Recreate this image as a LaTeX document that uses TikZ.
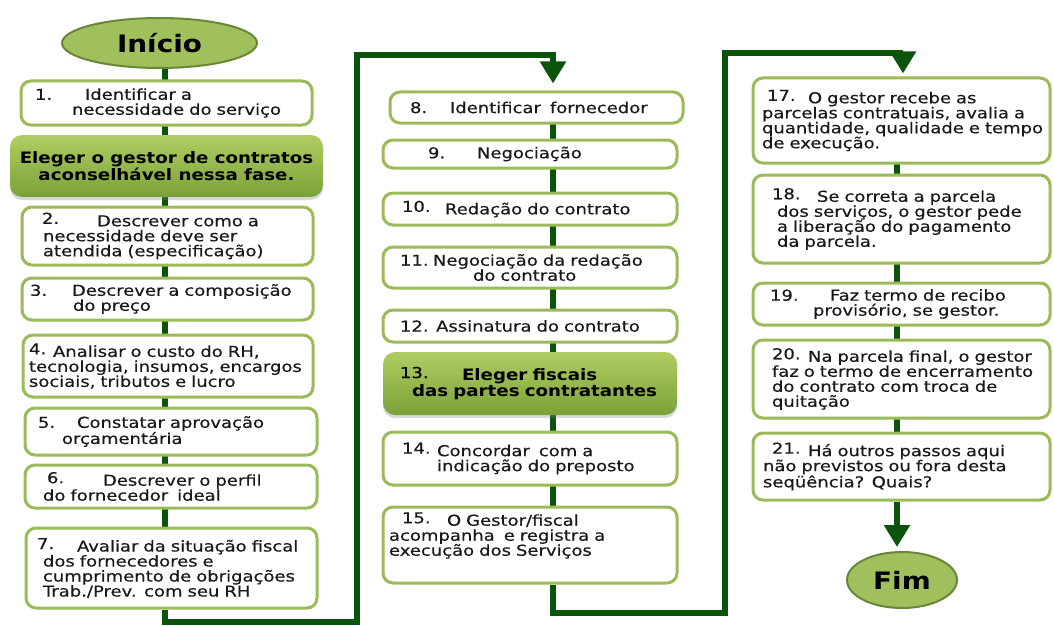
\documentclass[tikz,border=0pt]{standalone}
\usepackage{fontspec}
\newfontfamily\regf{DejaVu Sans}[FakeStretch=1.2, FakeBold=0.4]
\newfontfamily\boldf{DejaVu Sans}[FakeStretch=1.16]
\usetikzlibrary{arrows.meta,shapes.geometric,backgrounds,shadows}
\definecolor{connc}{RGB}{12,84,12}
\definecolor{bord}{RGB}{155,187,89}
\definecolor{gtop}{RGB}{176,205,98}
\definecolor{gbot}{RGB}{122,162,56}
\definecolor{ellf}{RGB}{160,192,94}
\definecolor{elld}{RGB}{105,135,55}
\definecolor{txt}{RGB}{25,25,25}
\newcommand{\NL}[4]{\hspace*{#1pt}\makebox[#2pt][l]{#3}\mbox{#4}}
\newcommand{\LL}[2]{\hspace*{#1pt}\mbox{#2}}
\newcommand{\rn}[1]{\raisebox{2.5pt}{#1}}
\tikzset{
  stepbox/.style={draw=bord, line width=3pt, rounded corners=10pt, fill=white,
    align=left, inner xsep=6pt, inner ysep=2pt, text=txt,
    font=\regf\fontsize{15}{15}\selectfont},
  greenbox/.style={draw=none, rounded corners=12pt, top color=gtop, bottom color=gbot,
    drop shadow={opacity=0.3, shadow xshift=0pt, shadow yshift=-3pt},
    inner xsep=6pt, font=\boldf\bfseries\fontsize{15.7}{15}\selectfont},
  term/.style={ellipse, draw=elld, line width=2pt, fill=ellf, inner sep=0pt,
    font=\boldf\bfseries\fontsize{24}{26}\selectfont},
  conn/.style={draw=connc, line width=6pt},
  tip/.style={-{Triangle[width=25pt,length=22pt]}}
}
\begin{document}
\begin{tikzpicture}[x=1pt,y=-1pt]
\useasboundingbox (0,0) rectangle (1053,626);
\coordinate (cl) at (165,0);
\coordinate (cm) at (553,0);
\coordinate (cr) at (897,0);
\coordinate (lb1) at (357,622);
\coordinate (lt1) at (553,55);
\coordinate (lb2) at (725,613);
\coordinate (lt2) at (903,53);

% left column
\node[term, minimum width=195pt, minimum height=50pt] (st) at (159.5,43) {Início};
\node[stepbox, minimum width=291pt, text width=279pt, minimum height=44pt] (b1) at (166.5,103)
  {\NL{8}{50}{1.}{Identificar a}\\\LL{45}{necessidade do serviço}};
\node[greenbox, minimum width=313pt, minimum height=62pt, align=center] (g1) at (166.5,166)
  {Eleger o gestor de contratos\\aconselhável nessa fase.};
\node[stepbox, minimum width=291pt, text width=279pt, minimum height=58pt] (b2) at (167.5,236)
  {\NL{14}{55}{\rn{2.}}{Descrever como a}\\\LL{15}{necessidade deve ser}\\\LL{15}{atendida (especificação)}};
\node[stepbox, minimum width=291pt, text width=279pt, minimum height=42pt] (b3) at (167.5,299)
  {\NL{2}{42}{3.}{Descrever a composição}\\\LL{45}{do preço}};
\node[stepbox, minimum width=290pt, text width=278pt, minimum height=62pt] (b4) at (168,366)
  {\NL{0}{24}{\rn{4.}}{Analisar o custo do RH,}\\\LL{0}{tecnologia, insumos, encargos}\\\LL{0}{sociais, tributos e lucro}};
\node[stepbox, minimum width=292pt, text width=280pt, minimum height=47pt] (b5) at (171,431.5)
  {\NL{7}{39}{5.}{Constatar aprovação}\\\LL{31}{orçamentária}};
\node[stepbox, minimum width=292pt, text width=280pt, minimum height=43pt] (b6) at (171,486.5)
  {\NL{16}{56}{\rn{6.}}{Descrever o perfil}\\\LL{12}{do fornecedor\hspace{4pt} ideal}};
\node[stepbox, minimum width=291pt, text width=279pt, minimum height=80pt] (b7) at (171.5,568)
  {\NL{5}{40}{\rn{7.}}{Avaliar da situação fiscal}\\\LL{11}{dos fornecedores e}\\\LL{11}{cumprimento de obrigações}\\\LL{11}{Trab./Prev. com seu RH}};

% middle column
\node[stepbox, minimum width=293pt, text width=281pt, minimum height=31pt] (b8) at (536.5,107.5)
  {\NL{14}{40}{8.}{Identificar\hspace{4pt} fornecedor}};
\node[stepbox, minimum width=294pt, text width=282pt, minimum height=28pt] (b9) at (530,154)
  {\NL{39}{49}{9.}{Negociação}};
\node[stepbox, minimum width=294pt, text width=282pt, minimum height=32pt] (b10) at (530,209)
  {\NL{13}{43}{\rn{10.}}{Redação do contrato}};
\node[stepbox, minimum width=294pt, text width=282pt, minimum height=41pt] (b11) at (530,267.5)
  {\NL{11}{33}{11.}{Negociação da redação}\\\LL{84}{do contrato}};
\node[stepbox, minimum width=294pt, text width=282pt, minimum height=32pt] (b12) at (530,326)
  {\LL{11}{12. Assinatura do contrato}};
\node[greenbox, minimum width=294pt, text width=282pt, minimum height=63pt, align=left] (g13) at (530,383.5)
  {\NL{11}{62}{\rn{\regf\mdseries\fontsize{15}{15}\selectfont 13.}}{Eleger fiscais}\\\LL{23}{das partes contratantes}};
\node[stepbox, minimum width=294pt, text width=282pt, minimum height=53pt] (b14) at (530,458.5)
  {\NL{13}{35}{\rn{14.}}{Concordar\hspace{4pt} com a}\\\LL{48}{indicação do preposto}};
\node[stepbox, minimum width=294pt, text width=282pt, minimum height=76pt] (b15) at (530,545)
  {\NL{13}{45}{\rn{15.}}{O Gestor/fiscal}\\\LL{0}{acompanha\hspace{4pt} e registra a}\\\LL{0}{execução dos Serviços}\\[7pt]\mbox{}};

% right column
\node[stepbox, minimum width=297pt, text width=285pt, minimum height=85pt] (b17) at (901.5,120.5)
  {\NL{8}{41}{\rn{17.}}{O gestor recebe as}\\\LL{3}{parcelas contratuais, avalia a}\\\LL{3}{quantidade, qualidade e tempo}\\\LL{3}{de execução.}};
\node[stepbox, minimum width=297pt, text width=285pt, minimum height=88pt] (b18) at (901.5,219)
  {\NL{13}{45}{\rn{18.}}{Se correta a parcela}\\\LL{18}{dos serviços, o gestor pede}\\\LL{18}{a liberação do pagamento}\\\LL{18}{da parcela.}};
\node[stepbox, minimum width=297pt, text width=285pt, minimum height=42pt] (b19) at (901.5,304)
  {\NL{11}{60}{19.}{Faz termo de recibo}\\\LL{54}{provisório, se gestor.}};
\node[stepbox, minimum width=297pt, text width=285pt, minimum height=78pt] (b20) at (901.5,379)
  {\NL{13}{36}{\rn{20.}}{Na parcela final, o gestor}\\\LL{13}{faz o termo de encerramento}\\\LL{13}{do contrato com troca de}\\\LL{13}{quitação}};
\node[stepbox, minimum width=297pt, text width=285pt, minimum height=67pt] (b21) at (901.5,466.5)
  {\NL{13}{36}{\rn{21.}}{Há outros passos aqui}\\\LL{4}{não previstos ou fora desta}\\\LL{4}{seqüência? Quais?}};
\node[term, minimum width=110pt, minimum height=56pt] (en) at (902,580) {Fim};

% straight connectors behind the boxes
\begin{pgfonlayer}{background}
\draw[conn] (st -| cl) -- (b1 -| cl) -- (g1 -| cl) -- (b2 -| cl) -- (b3 -| cl)
  -- (b4 -| cl) -- (b5 -| cl) -- (b6 -| cl) -- (b7 -| cl);
\draw[conn] (b8 -| cm) -- (b9 -| cm) -- (b10 -| cm) -- (b11 -| cm) -- (b12 -| cm)
  -- (g13 -| cm) -- (b14 -| cm) -- (b15 -| cm);
\draw[conn] (b17 -| cr) -- (b18 -| cr) -- (b19 -| cr) -- (b20 -| cr) -- (b21 -| cr);
\end{pgfonlayer}

% loop connectors
\draw[conn, tip, shorten >=7pt] (b7.south -| cl) |- (lb1) |- (lt1) -- (b8.north -| lt1);
\draw[conn, tip, shorten >=3pt] (b15.south -| cm) |- (lb2) |- (lt2) -- (b17.north -| lt2);
\draw[conn, tip, shorten >=4pt] (b21.south -| cr) -- (en.north -| cr);
\end{tikzpicture}
\end{document}
